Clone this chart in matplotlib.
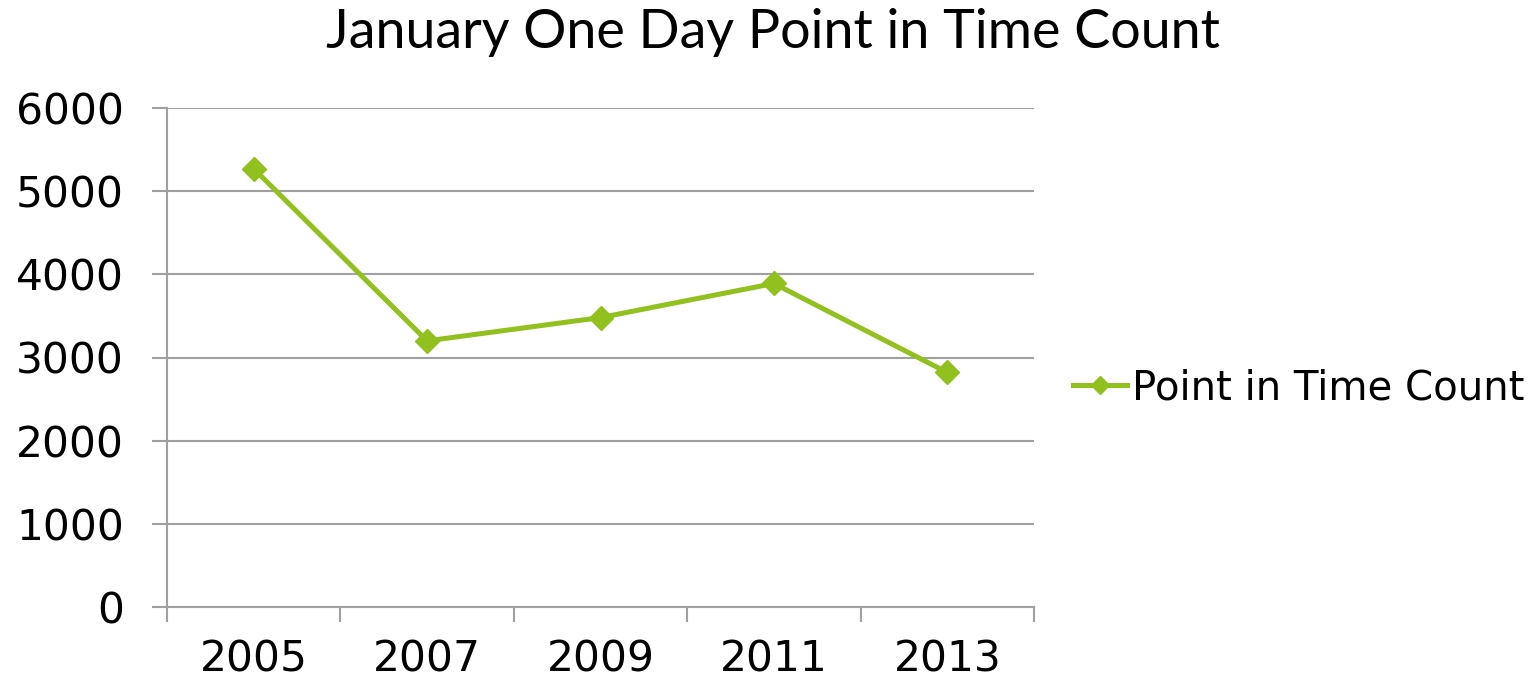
import matplotlib
matplotlib.use("Agg")
import matplotlib.pyplot as plt
import numpy as np

# ── Data ──────────────────────────────────────────────────────────────────────
years  = ["2005", "2007", "2009", "2011", "2013"]
counts = [5270, 3200, 3480, 3890, 2820]
series_name = "Point in Time Count"
title = "January One Day Point in Time Count"

GREEN = "#92C01F"
GRID  = "#A0A0A0"

# ── Figure ────────────────────────────────────────────────────────────────────
fig = plt.figure(figsize=(15.4, 6.85), dpi=100)
ax = fig.add_axes([167 / 1540, 1 - 607 / 685, (1034 - 167) / 1540, (607 - 108) / 685])

x = np.arange(len(years))
line, = ax.plot(x, counts, color=GREEN, lw=3.6, marker="D", ms=12,
                mec=GREEN, mfc=GREEN, label=series_name, zorder=3)

ax.set_xlim(-0.5, len(years) - 0.5)
ax.set_ylim(0, 6000)
ax.set_yticks(np.arange(0, 6001, 1000))
ax.yaxis.grid(True, color=GRID, lw=1.5)
ax.set_axisbelow(True)

# category labels at centres, tick marks between categories
ax.set_xticks(x)
ax.set_xticklabels(years)
ax.set_xticks(np.arange(-0.5, len(years)), minor=True)
ax.tick_params(axis="x", which="major", length=0, pad=23, labelsize=30.5)
ax.tick_params(axis="x", which="minor", length=11, width=1.5, color=GRID,
               direction="out")
ax.tick_params(axis="y", length=11, width=1.5, color=GRID, direction="out",
               pad=20, labelsize=30.5)

for side in ["top", "right"]:
    ax.spines[side].set_visible(False)
for side in ["left", "bottom"]:
    ax.spines[side].set_color(GRID)
    ax.spines[side].set_linewidth(1.5)

fig.text(0.502, 1 - 48 / 685, title, ha="center", va="baseline",
         fontsize=38.8, family="Lato")

fig.legend(handles=[line], loc="center left",
           bbox_to_anchor=(1073 / 1540, 1 - 388 / 685),
           frameon=False, fontsize=29, handlelength=1.35, handletextpad=0.12,
           borderpad=0, borderaxespad=0, markerscale=0.75)

fig.savefig("out.png", dpi=100)
